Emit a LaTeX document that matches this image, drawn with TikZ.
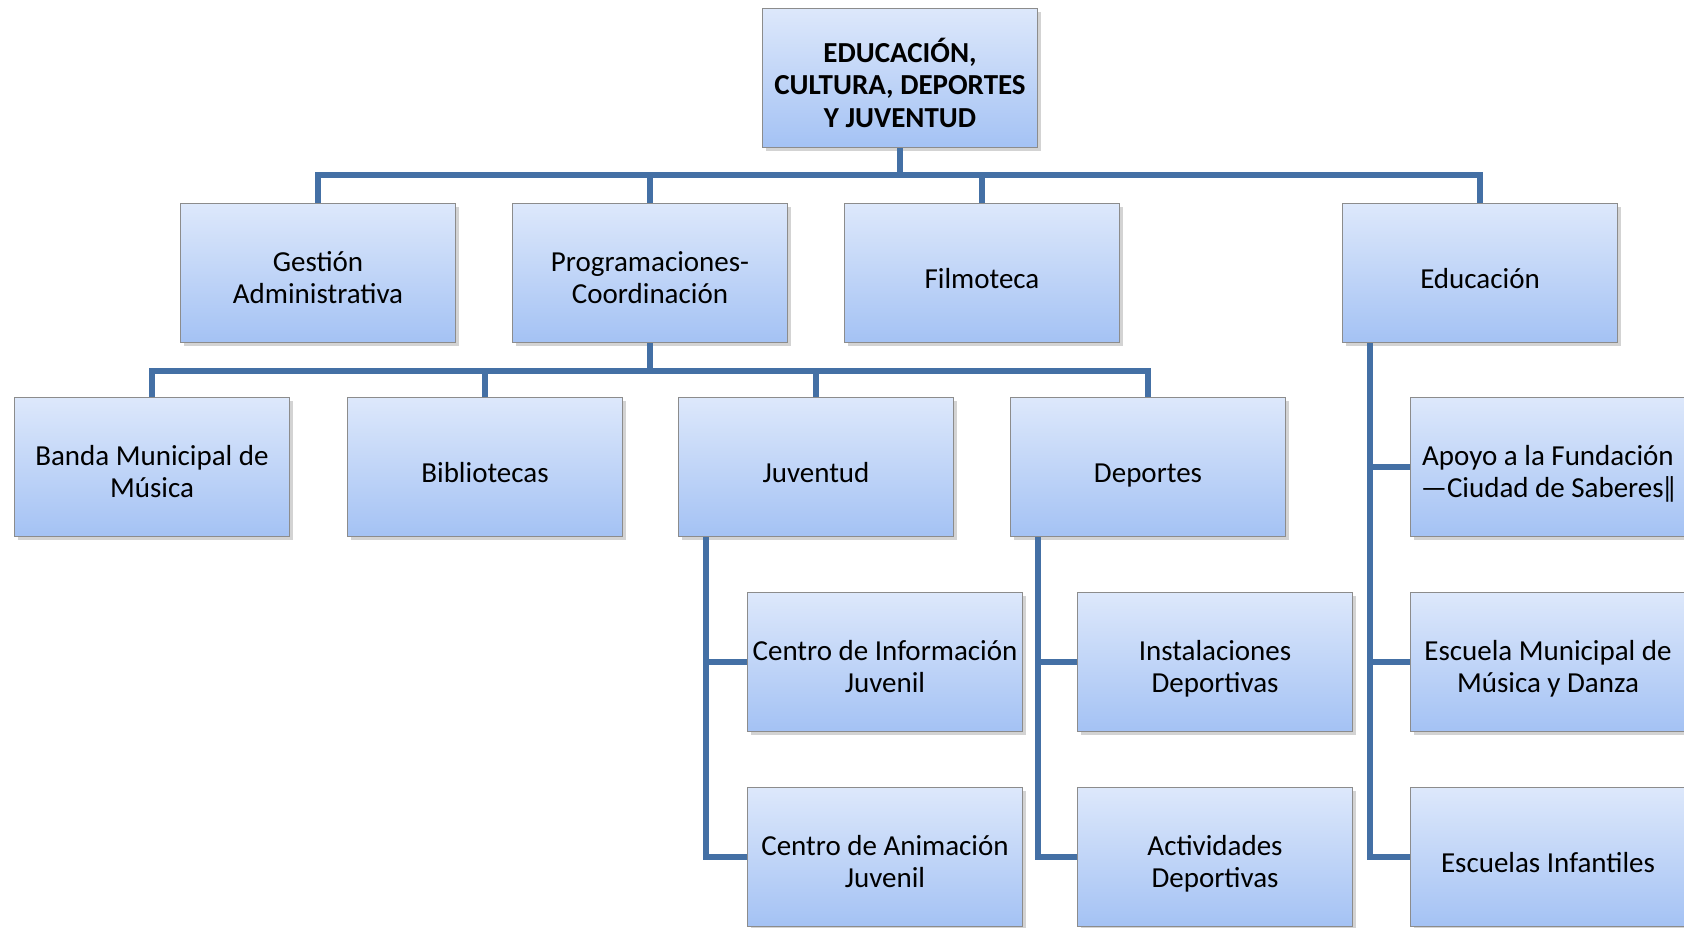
\documentclass[tikz,border=0pt]{standalone}
\usepackage{fontspec}
\setmainfont{Carlito}
\usetikzlibrary{shadows}
\definecolor{boxtop}{HTML}{DDE8FB}
\definecolor{boxbot}{HTML}{A4C2F4}
\definecolor{linkblue}{HTML}{4470A5}
\newsavebox{\unitbox}
\begin{document}
\begin{tikzpicture}[x=0.02cm, y=-0.02cm,
    unit/.style={draw=black!45, line width=0.6pt, top color=boxtop, bottom color=boxbot,
      minimum width=5.5cm, minimum height=2.78cm, align=center, inner sep=1pt,
      font=\fontsize{16.5}{18.4}\selectfont,
      execute at begin node={\setbox\unitbox=\hbox\bgroup\strut},
      execute at end node={\egroup\raisebox{-5.4pt}[\height][\depth]{\usebox{\unitbox}}},
      drop shadow={shadow xshift=2pt, shadow yshift=-2pt, opacity=0.35}},
    head/.style={unit, font=\fontsize{16.5}{18.4}\selectfont\bfseries},
    link/.style={draw=linkblue, line width=3pt}]
    \clip (0,0) rectangle (1684,927);
    \node[head] (top) at (900,78) {EDUCACIÓN,\\CULTURA, DEPORTES\\Y JUVENTUD};
    \node[unit] (ges) at (318,273) {Gestión\\Administrativa};
    \node[unit] (pro) at (650,273) {Programaciones-\\Coordinación};
    \node[unit] (fil) at (982,273) {Filmoteca};
    \node[unit] (edu) at (1480,273) {Educación};
    \node[unit] (ban) at (152,467) {Banda Municipal de\\Música};
    \node[unit] (bib) at (485,467) {Bibliotecas};
    \node[unit] (juv) at (816,467) {Juventud};
    \node[unit] (dep) at (1148,467) {Deportes};
    \node[unit] (cij) at (885,662) {Centro de Información\\Juvenil};
    \node[unit] (caj) at (885,857) {Centro de Animación\\Juvenil};
    \node[unit] (ins) at (1215,662) {Instalaciones\\Deportivas};
    \node[unit] (act) at (1215,857) {Actividades\\Deportivas};
    \node[unit] (apo) at (1548,467) {Apoyo a la Fundación\\—Ciudad de Saberes‖};
    \node[unit] (esc) at (1548,662) {Escuela Municipal de\\Música y Danza};
    \node[unit] (inf) at (1548,857) {Escuelas Infantiles};
    \foreach \n in {ges,pro,fil,edu}
        \draw[link] (top.south) -- ++(0,27) -| (\n.north);
    \foreach \n in {ban,bib,juv,dep}
        \draw[link] (pro.south) -- ++(0,28) -| (\n.north);
    \draw[link] ([xshift=0.56cm]juv.south west) |- (cij.west);
    \draw[link] ([xshift=0.56cm]juv.south west) |- (caj.west);
    \draw[link] ([xshift=0.56cm]dep.south west) |- (ins.west);
    \draw[link] ([xshift=0.56cm]dep.south west) |- (act.west);
    \draw[link] ([xshift=0.56cm]edu.south west) |- (apo.west);
    \draw[link] ([xshift=0.56cm]edu.south west) |- (esc.west);
    \draw[link] ([xshift=0.56cm]edu.south west) |- (inf.west);
\end{tikzpicture}
\end{document}
